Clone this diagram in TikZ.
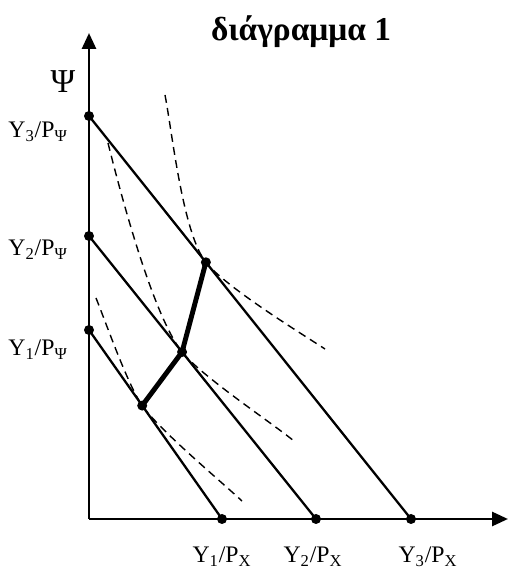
\documentclass[tikz,border=0pt]{standalone}
\usepackage{fontspec}
\setmainfont{Liberation Serif}
\usetikzlibrary{arrows.meta,positioning,calc}

\begin{document}
\begin{tikzpicture}[font=\fontsize{13.5}{15}\selectfont,
    >={Triangle[length=0.32cm, width=0.28cm]},
    axis/.style={->, line width=1.6pt},
    budget/.style={line width=1.3pt},
    indiff/.style={line width=0.8pt, dash pattern=on 4.5pt off 3pt, looseness=0.55},
    icc/.style={line width=2.8pt, line join=round},
    dot/.style={circle, fill, inner sep=0pt, minimum size=0.2cm},
    lbl/.style={inner sep=0pt}]

  \useasboundingbox (-1.78,-1.14) rectangle (8.40,10.38);

  %% Axes
  \coordinate (O)    at (0,0);
  \coordinate (ytip) at (0,9.72);
  \coordinate (xtip) at (8.38,0);
  \draw[axis] (O) -- (ytip);
  \draw[axis] (O) -- (xtip);

  %% Intercepts of the budget lines
  \coordinate (y1) at (0,3.78);
  \coordinate (y2) at (0,5.66);
  \coordinate (y3) at (0,8.06);
  \coordinate (x1) at (2.66,0);
  \coordinate (x2) at (4.54,0);
  \coordinate (x3) at (6.44,0);

  %% Budget lines
  \draw[budget] (y1) -- (x1);
  \draw[budget] (y2) -- (x2);
  \draw[budget] (y3) -- (x3);

  %% Tangency points
  \coordinate (e1) at ($(y1)!0.40!(x1)$);
  \coordinate (e2) at ($(y2)!0.41!(x2)$);
  \coordinate (e3) at ($(y3)!0.363!(x3)$);

  %% Indifference curves
  \coordinate (u1s) at (0.14,4.42);
  \coordinate (u1e) at (3.06,0.36);
  \coordinate (u2s) at (0.38,7.52);
  \coordinate (u2e) at (4.10,1.56);
  \coordinate (u3s) at (1.52,8.48);
  \coordinate (u3e) at (4.72,3.40);
  \draw[indiff] (u1s) to[out=-68, in=125.1] (e1) to[out=-54.9, in=137] (u1e);
  \draw[indiff] (u2s) to[out=-76, in=128.7] (e2) to[out=-51.3, in=141] (u2e);
  \draw[indiff] (u3s) to[out=-79, in=128.7] (e3) to[out=-51.3, in=147] (u3e);

  %% Income-consumption path
  \draw[icc] (e1) -- (e2) -- (e3);

  %% Dots
  \foreach \p in {y1,y2,y3,x1,x2,x3,e1,e2,e3}
    \node[dot] (d\p) at (\p) {};

  %% Labels
  \node[lbl, font=\fontsize{19}{21}\selectfont] (psi) at (-0.52,8.74) {Ψ};
  \node[lbl, anchor=east] (ly3) at ($(y3)+(-0.42,-0.32)$) {Y\textsubscript{3}/P\textsubscript{Ψ}};
  \node[lbl, anchor=east] (ly2) at ($(y2)+(-0.42,-0.28)$) {Y\textsubscript{2}/P\textsubscript{Ψ}};
  \node[lbl, anchor=east] (ly1) at ($(y1)+(-0.42,-0.40)$) {Y\textsubscript{1}/P\textsubscript{Ψ}};
  \node[lbl] (lx1) at ($(x1)+(0,-0.76)$) {Y\textsubscript{1}/P\textsubscript{X}};
  \node[lbl] (lx2) at ($(x2)+(-0.06,-0.76)$) {Y\textsubscript{2}/P\textsubscript{X}};
  \node[lbl] (lx3) at ($(x3)+(0.34,-0.76)$) {Y\textsubscript{3}/P\textsubscript{X}};

  %% Title
  \node[lbl, font=\fontsize{19}{21}\selectfont\bfseries] (title) at (4.24,9.74) {διάγραμμα 1};
\end{tikzpicture}
\end{document}
